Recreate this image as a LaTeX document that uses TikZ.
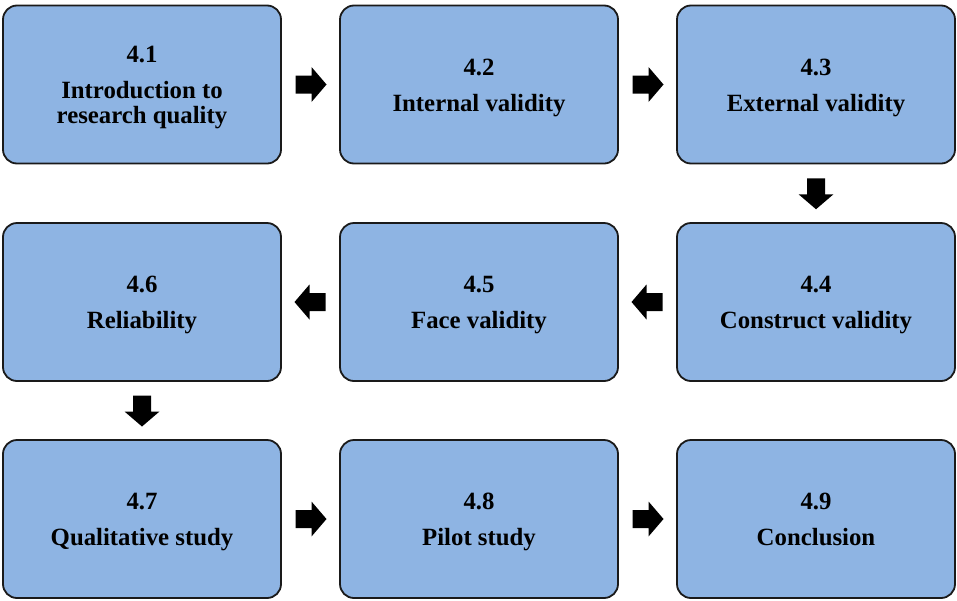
\documentclass[tikz,border=0pt]{standalone}
\usepackage{fontspec}
\setmainfont{Liberation Serif}
\usetikzlibrary{calc}
\definecolor{boxblue}{HTML}{8EB4E3}
\definecolor{boxline}{HTML}{1A1A1A}
\newcommand\topictext[2]{\rule{0pt}{23pt}#1\\[11pt]#2\vphantom{y}}
\tikzset{
  topicbox/.style={draw=boxline, line width=1.8pt, fill=boxblue, rounded corners=14pt,
    minimum width=278pt, minimum height=158pt, inner sep=0pt, align=center,
    font=\fontsize{24.8}{25}\selectfont\bfseries},
  barrow/.pic={\fill[black] (-15,-9) -- (1,-9) -- (1,-17.5) -- (16,0) -- (1,17.5) -- (1,9) -- (-15,9) -- cycle;}
}
\begin{document}
\begin{tikzpicture}[x=1pt,y=-1pt]
\useasboundingbox (0,0) rectangle (957,600);
\node[topicbox] (b1) at (142,84.5) {\topictext{4.1}{Introduction to\\research quality}};
\node[topicbox] (b2) at (479,84.5) {\topictext{4.2}{Internal validity}};
\node[topicbox] (b3) at (816,84.5) {\topictext{4.3}{External validity}};
\node[topicbox] (b6) at (142,302) {\topictext{4.6}{Reliability}};
\node[topicbox] (b5) at (479,302) {\topictext{4.5}{Face validity}};
\node[topicbox] (b4) at (816,302) {\topictext{4.4}{Construct validity}};
\node[topicbox] (b7) at (142,519) {\topictext{4.7}{Qualitative study}};
\node[topicbox] (b8) at (479,519) {\topictext{4.8}{Pilot study}};
\node[topicbox] (b9) at (816,519) {\topictext{4.9}{Conclusion}};
\coordinate (a12) at ($(b1.east)!0.5!(b2.west)$);
\coordinate (a23) at ($(b2.east)!0.5!(b3.west)$);
\coordinate (a34) at ($(b3.south)!0.5!(b4.north)$);
\coordinate (a45) at ($(b4.west)!0.5!(b5.east)$);
\coordinate (a56) at ($(b5.west)!0.5!(b6.east)$);
\coordinate (a67) at ($(b6.south)!0.5!(b7.north)$);
\coordinate (a78) at ($(b7.east)!0.5!(b8.west)$);
\coordinate (a89) at ($(b8.east)!0.5!(b9.west)$);
\pic at (a12) {barrow};
\pic at (a23) {barrow};
\pic[rotate=-90] at (a34) {barrow};
\pic[rotate=180] at (a45) {barrow};
\pic[rotate=180] at (a56) {barrow};
\pic[rotate=-90] at (a67) {barrow};
\pic at (a78) {barrow};
\pic at (a89) {barrow};
\end{tikzpicture}
\end{document}
